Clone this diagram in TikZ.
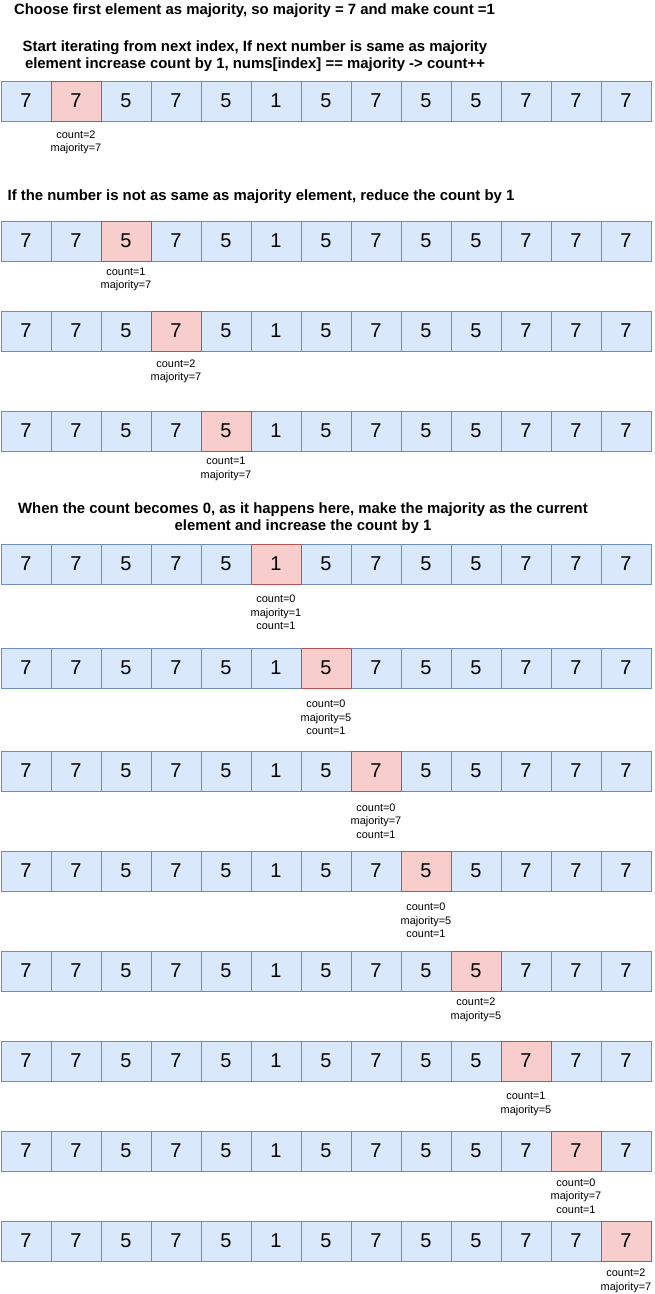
\documentclass[tikz,border=0pt]{standalone}
\usepackage{fontspec}
\setmainfont{Liberation Sans}
\definecolor{cfill}{HTML}{DAE8FC}
\definecolor{cdraw}{HTML}{6C8EBF}
\definecolor{hfill}{HTML}{F8CECC}
\definecolor{hdraw}{HTML}{B85450}
\tikzset{
  cell/.style={rectangle, minimum width=50pt, minimum height=40pt, inner sep=0pt,
    line width=0.9pt, fill=cfill, draw=cdraw, font=\fontsize{20}{24}\selectfont},
  hl/.style={cell, fill=hfill, draw=hdraw},
  lbl/.style={align=center, inner sep=0pt, font=\fontsize{10.9}{13.4}\selectfont},
  ttl/.style={align=center, inner sep=0pt, font=\fontsize{14.9}{17}\selectfont\bfseries}
}
\begin{document}
\begin{tikzpicture}[x=1pt,y=-1pt]
\useasboundingbox (0,0) rectangle (654,1294);
\fill[white] (0,0) rectangle (654,1294);
% titles
\node[ttl] (t1) at (254.5,11) {Choose first element as majority, so majority = 7 and make count =1};
\node[ttl] (t2) at (255,56) {Start iterating from next index, If next number is same as majority\\element increase count by 1, nums[index] == majority -> count++};
\node[ttl] (t3) at (261,196.5) {If the number is not as same as majority element, reduce the count by 1};
\node[ttl] (t4) at (303,518) {When the count becomes 0, as it happens here, make the majority as the current\\element and increase the count by 1};
% rows
\foreach \y [count=\r] in {81,221,311,411,544,648,751,851,951,1041,1131,1221} {
  \foreach \v [count=\k from 0] in {7,7,5,7,5,1,5,7,5,5,7,7,7} {
    \ifnum\k=\r\else
      \node[cell] (c-\r-\k) at ({26+50*\k},{\y+20}) {\v};
    \fi
  }
  \foreach \v [count=\k from 0] in {7,7,5,7,5,1,5,7,5,5,7,7,7} {
    \ifnum\k=\r
      \node[hl] (c-\r-\k) at ({26+50*\k},{\y+20}) {\v};
    \fi
  }
}
% labels
\node[lbl] (l1) at (76,142.5) {count=2\\majority=7};
\node[lbl] (l2) at (126,279.5) {count=1\\majority=7};
\node[lbl] (l3) at (176,371.5) {count=2\\majority=7};
\node[lbl] (l4) at (226,469) {count=1\\majority=7};
\node[lbl] (l5) at (276,612.5) {count=0\\majority=1\\count=1};
\node[lbl] (l6) at (326,717.5) {count=0\\majority=5\\count=1};
\node[lbl] (l7) at (376,821) {count=0\\majority=7\\count=1};
\node[lbl] (l8) at (426,920.5) {count=0\\majority=5\\count=1};
\node[lbl] (l9) at (476,1010) {count=2\\majority=5};
\node[lbl] (l10) at (526,1104) {count=1\\majority=5};
\node[lbl] (l11) at (576,1196) {count=0\\majority=7\\count=1};
\node[lbl] (l12) at (626,1281) {count=2\\majority=7};
\end{tikzpicture}
\end{document}
